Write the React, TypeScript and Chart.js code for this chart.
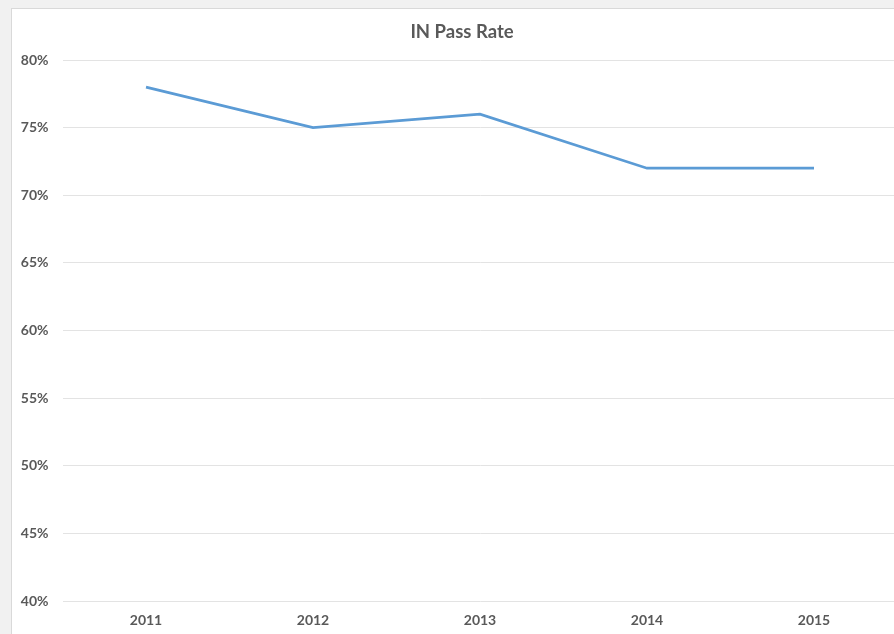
import React, { useEffect, useRef } from "react";
import { Chart, registerables } from "chart.js";

Chart.register(...registerables);

const chartTitle = "IN Pass Rate";
const years = ["2011", "2012", "2013", "2014", "2015"];
const passRate = [78, 75, 76, 72, 72];
const yMin = 40;
const yMax = 80;
const yStep = 5;

export default function App() {
  const canvasRef = useRef<HTMLCanvasElement | null>(null);

  useEffect(() => {
    const canvas = canvasRef.current;
    if (!canvas) return;
    const chart = new Chart(canvas, {
      type: "line",
      data: {
        labels: years,
        datasets: [
          {
            label: chartTitle,
            data: passRate,
            borderColor: "#5B9BD5",
            backgroundColor: "#5B9BD5",
            borderWidth: 2.75,
            pointRadius: 0,
            tension: 0,
            fill: false,
            yAxisID: "y",
          },
        ],
      },
      options: {
        animation: false,
        responsive: false,
        maintainAspectRatio: false,
        layout: { padding: 0 },
        plugins: {
          legend: { display: false },
          tooltip: { enabled: false },
          title: {
            display: true,
            text: chartTitle,
            color: "#595959",
            font: { family: "Lato", size: 18.5, weight: "bold", lineHeight: 1.2 },
            padding: { top: 12, bottom: 16.8 },
          },
        },
        scales: {
          x: {
            type: "category",
            offset: true,
            grid: { display: false },
            border: { display: false },
            ticks: {
              color: "#595959",
              font: { family: "Lato", size: 14, weight: "bold", lineHeight: 1.2 },
              padding: 3,
              maxRotation: 0,
            },
            afterFit: (scale: any) => {
              scale.height = 48;
            },
          },
          y: {
            min: yMin,
            max: yMax,
            grid: { color: "#e3e3e3", lineWidth: 1, drawTicks: false },
            border: { display: false },
            ticks: {
              stepSize: yStep,
              color: "#595959",
              font: { family: "Lato", size: 14, weight: "bold", lineHeight: 1.2 },
              padding: 14,
              callback: (v: any) => `${v}%`,
            },
            afterFit: (scale: any) => {
              scale.width = 50.5;
            },
          },
          spacer: {
            type: "linear",
            position: "right",
            display: true,
            grid: { display: false, drawTicks: false },
            border: { display: false },
            ticks: { display: false },
            afterFit: (scale: any) => {
              scale.width = 14.5;
            },
          },
        },
      },
    });
    return () => chart.destroy();
  }, []);

  return (
    <div
      style={{
        position: "fixed",
        left: 0,
        top: 0,
        width: 894,
        height: 634,
        overflow: "hidden",
        background: "#f1f1f1",
      }}
    >
      <div
        style={{
          position: "absolute",
          left: 11,
          top: 8,
          width: 900,
          height: 640,
          background: "#ffffff",
          border: "1px solid #d9d9d9",
        }}
      >
        <canvas ref={canvasRef} width={900} height={640} style={{ display: "block", width: 900, height: 640 }} />
      </div>
    </div>
  );
}
